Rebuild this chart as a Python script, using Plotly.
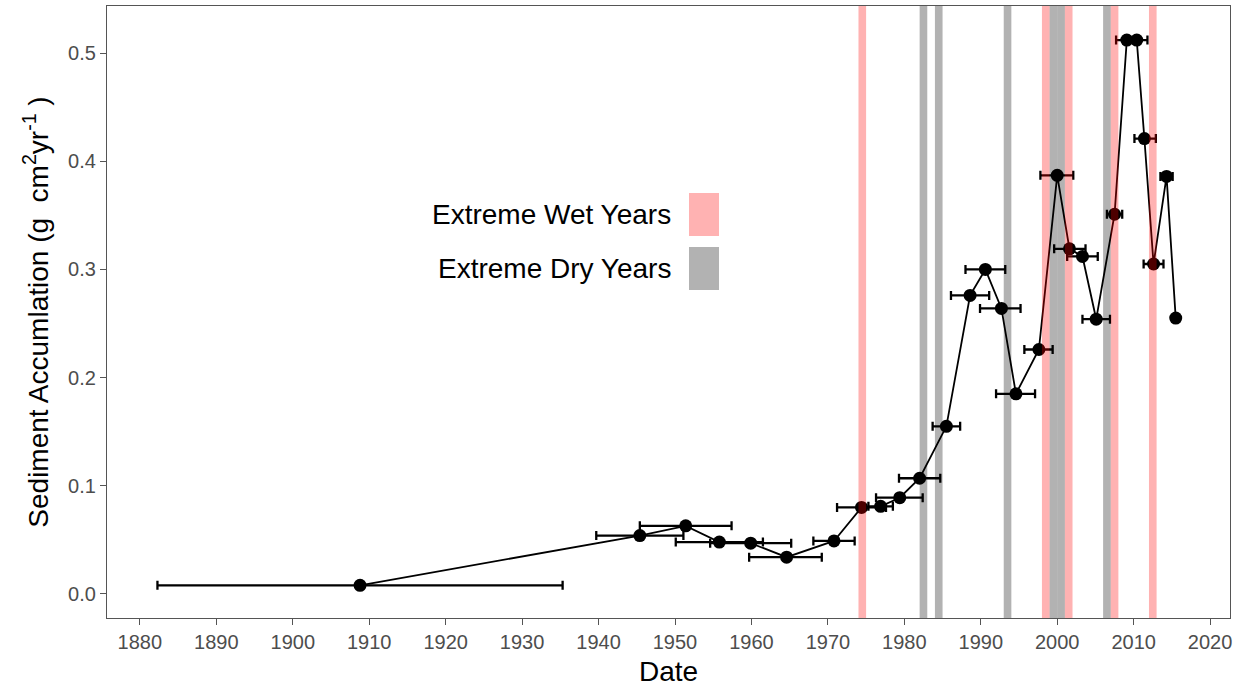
import plotly.graph_objects as go

# ---- data ----
years = [1908.8, 1945.4, 1951.4, 1955.8, 1959.9, 1964.6, 1970.8, 1974.4, 1976.9,
         1979.4, 1982.0, 1985.5, 1988.6, 1990.6, 1992.7, 1994.6, 1997.6, 2000.0,
         2001.6, 2003.3, 2005.1, 2007.5, 2009.1, 2010.4, 2011.4, 2012.6, 2014.3, 2015.5]
accumulation = [0.008, 0.054, 0.063, 0.048, 0.047, 0.034, 0.049, 0.080, 0.081,
                0.089, 0.107, 0.155, 0.276, 0.300, 0.264, 0.185, 0.226, 0.387,
                0.319, 0.312, 0.254, 0.351, 0.512, 0.512, 0.421, 0.305, 0.386, 0.255]
date_min = [1882.3, 1939.7, 1945.4, 1950.1, 1954.6, 1959.7, 1968.1, 1971.2, 1975.3,
            1976.3, 1979.3, 1983.7, 1986.1, 1988.0, 1989.9, 1992.0, 1995.7, 1997.8,
            1999.6, 2001.3, 2003.3, 2006.5, 2007.7, 2009.0, 2010.1, 2011.3, 2013.5, 2015.5]
date_max = [1935.3, 1951.1, 1957.4, 1961.5, 1965.2, 1969.2, 1973.5, 1977.6, 1978.5,
            1982.4, 1984.7, 1987.3, 1991.1, 1993.2, 1995.2, 1997.1, 1999.4, 2002.1,
            2003.7, 2005.3, 2006.9, 2008.5, 2010.5, 2011.8, 2012.9, 2013.9, 2015.1, 2015.5]

wet_years = [1974, 1998, 2001, 2007, 2012]
dry_years = [1982, 1984, 1993, 1999, 2000, 2006]

x_ticks = list(range(1880, 2021, 10))
y_ticks = [0.0, 0.1, 0.2, 0.3, 0.4, 0.5]

WET = "rgba(255,0,0,0.3)"
DRY = "rgba(0,0,0,0.3)"
FONT = "Liberation Sans, Arial, sans-serif"

err_plus = [hi - x for hi, x in zip(date_max, years)]
err_minus = [x - lo for lo, x in zip(date_min, years)]

fig = go.Figure()
fig.add_trace(go.Scatter(
    x=years, y=accumulation, mode="lines+markers",
    line=dict(color="black", width=1.8),
    marker=dict(color="black", size=13),
    error_x=dict(type="data", symmetric=False, array=err_plus, arrayminus=err_minus,
                 color="black", thickness=2.3, width=4.5),
    showlegend=False,
))

shapes = []
for yr in wet_years:
    shapes.append(dict(type="rect", xref="x", yref="paper", x0=yr, x1=yr + 1, y0=0, y1=1,
                       fillcolor=WET, line=dict(width=0), layer="above"))
for yr in dry_years:
    shapes.append(dict(type="rect", xref="x", yref="paper", x0=yr, x1=yr + 1, y0=0, y1=1,
                       fillcolor=DRY, line=dict(width=0), layer="above"))

# manual legend (text left of key), in paper coordinates
L, R, T, B = 107, 1230, 6, 618
W, H = R - L, B - T
def px(x):
    return (x - L) / W
def py(y):
    return (B - y) / H

legend_items = [("Extreme Wet Years", WET, 193, 236), ("Extreme Dry Years", DRY, 247, 290)]
annotations = []
for label, col, y0, y1 in legend_items:
    shapes.append(dict(type="rect", xref="paper", yref="paper", x0=px(689), x1=px(719),
                       y0=py(y1), y1=py(y0), fillcolor=col, line=dict(width=0), layer="above"))
    annotations.append(dict(text=label, xref="paper", yref="paper", x=px(673), y=py((y0 + y1) / 2),
                            xanchor="right", yanchor="middle", showarrow=False,
                            font=dict(family=FONT, size=28, color="black")))

axis_common = dict(showgrid=False, zeroline=False, showline=True, mirror=True,
                   linecolor="#555555", linewidth=1.2, ticks="outside", ticklen=6,
                   tickcolor="#555555", tickwidth=1.2,
                   tickfont=dict(family=FONT, size=20, color="#4D4D4D"))

fig.update_layout(
    width=1242, height=692,
    margin=dict(l=L, r=1242 - R, t=T, b=692 - B),
    paper_bgcolor="white", plot_bgcolor="white",
    shapes=shapes, annotations=annotations,
    xaxis=dict(range=[1875.7, 2022.6], tickvals=x_ticks, ticktext=[str(t) for t in x_ticks],
               title=dict(text="Date", font=dict(family=FONT, size=28, color="black"), standoff=9),
               **axis_common),
    yaxis=dict(range=[-0.0222, 0.5435], tickvals=y_ticks, ticktext=[f"{t:.1f}" for t in y_ticks],
               title=dict(text="Sediment Accumlation (g&nbsp;&nbsp;cm<sup>2</sup>yr<sup>-1</sup>&nbsp;)",
                          font=dict(family=FONT, size=28, color="black"), standoff=11),
               **axis_common),
)

fig.write_html("out.html")
